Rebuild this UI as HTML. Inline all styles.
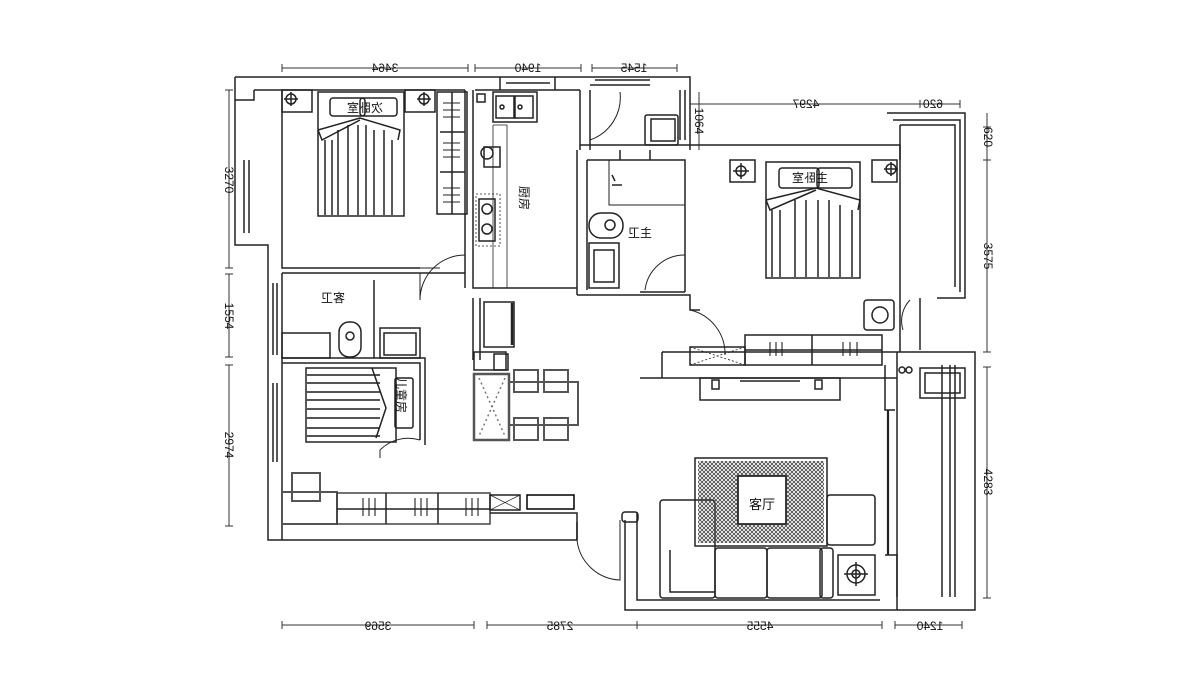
<!DOCTYPE html>
<html><head><meta charset="utf-8"><style>
html,body{margin:0;padding:0;background:#fff;}
svg{display:block;}
text{font-family:"Liberation Sans","Noto Sans CJK SC",sans-serif;fill:#111;}
</style></head><body>
<svg width="1187" height="694" viewBox="0 0 1187 694" xmlns="http://www.w3.org/2000/svg">
<g fill="none" stroke="#222" stroke-width="1.5">
<!-- ===== dimension lines ===== -->
<g stroke="#333" stroke-width="1">
<line x1="282" y1="68" x2="468" y2="68"/><line x1="282" y1="64" x2="282" y2="72"/><line x1="468" y1="64" x2="468" y2="72"/>
<line x1="475" y1="68" x2="581" y2="68"/><line x1="475" y1="64" x2="475" y2="72"/><line x1="581" y1="64" x2="581" y2="72"/>
<line x1="592" y1="68" x2="677" y2="68"/><line x1="592" y1="64" x2="592" y2="72"/><line x1="677" y1="64" x2="677" y2="72"/>
<line x1="690" y1="104" x2="960" y2="104"/><line x1="920" y1="100" x2="920" y2="108"/><line x1="960" y1="100" x2="960" y2="108"/>
<line x1="699" y1="92" x2="699" y2="150"/>
<line x1="229" y1="90" x2="229" y2="268"/><line x1="225" y1="90" x2="233" y2="90"/><line x1="225" y1="268" x2="233" y2="268"/>
<line x1="229" y1="274" x2="229" y2="357"/><line x1="225" y1="274" x2="233" y2="274"/><line x1="225" y1="357" x2="233" y2="357"/>
<line x1="229" y1="365" x2="229" y2="526"/><line x1="225" y1="365" x2="233" y2="365"/><line x1="225" y1="526" x2="233" y2="526"/>
<line x1="987" y1="113" x2="987" y2="352"/><line x1="983" y1="127" x2="991" y2="127"/><line x1="983" y1="160" x2="991" y2="160"/><line x1="983" y1="352" x2="991" y2="352"/>
<line x1="987" y1="367" x2="987" y2="598"/><line x1="983" y1="367" x2="991" y2="367"/><line x1="983" y1="598" x2="991" y2="598"/>
<line x1="282" y1="625" x2="474" y2="625"/><line x1="282" y1="621" x2="282" y2="629"/><line x1="474" y1="621" x2="474" y2="629"/>
<line x1="487" y1="625" x2="882" y2="625"/><line x1="487" y1="621" x2="487" y2="629"/><line x1="637" y1="621" x2="637" y2="629"/><line x1="882" y1="621" x2="882" y2="629"/>
<line x1="895" y1="625" x2="962" y2="625"/><line x1="895" y1="621" x2="895" y2="629"/><line x1="962" y1="621" x2="962" y2="629"/>
</g>
<!-- ===== walls ===== -->
<path d="M235 77 H690 V150"/>
<path d="M254 90 H282 M282 90 H465"/>
<path d="M235 77 V245 H268 V540 H577 V522"/>
<path d="M254 90 V100 H235"/>
<path d="M249 160 V233 M244 160 V233"/>
<path d="M282 90 V268 H420"/>
<path d="M282 273 H465"/>
<path d="M282 273 V540"/>
<path d="M273 283 V355 M277 283 V355 M273 383 V462 M277 383 V462"/>
<path d="M282 358 H425 V445"/>
<path d="M282 363 H420 V440"/>
<path d="M374 280 V358"/>
<path d="M465 90 V270 M473 90 V288 H577"/>
<path d="M465 270 V288 M473 298 V360 M480 298 V360"/>
<path d="M475 90 H580 M580 90 V150 M590 90 V150"/>
<path d="M500 90 V77 M555 90 V77 M506 83 H550"/>
<path d="M590 85 H650 M595 80 H650"/>
<path d="M580 145 H900 V352 M577 150 V295 M587 160 V290"/>
<path d="M587 160 H685 V292 M620 150 V160 M650 150 V160"/>
<path d="M685 292 H640 M577 295 H690 V310 H700"/>
<path d="M680 90 V140 M685 90 V140"/>
<path d="M887 113 H965 V298 H937 M893 120 H960 V292 M900 125 H955 V287 M900 125 V160"/>
<path d="M910 300 A30 30 0 0 0 903 330" stroke-width="1"/>
<path d="M920 298 V350"/>
<path d="M662 352 H975 V610 H625 V520"/>
<path d="M662 352 V378 H897 M662 378 H640"/>
<path d="M897 352 V610 M885 365 V410 H895"/>
<path d="M888 410 V555" stroke-width="2.2"/>
<path d="M885 555 H897 V597 M942 365 V597 M950 365 V597 M955 365 V597"/>
<path d="M637 512 V600 H880"/>
<path d="M420 268 H440 M420 273 V300 A 45 45 0 0 1 465 255" stroke-width="1"/>
<path d="M380 450 A40 40 0 0 1 420 440 M380 450 V458" stroke-width="1"/>
<path d="M620 92 A 45 45 0 0 1 590 140" stroke-width="1"/>
<path d="M645 290 A 40 40 0 0 1 685 255" stroke-width="1"/>
<path d="M690 310 A 45 45 0 0 1 725 355" stroke-width="1"/>
<path d="M577 540 A 45 45 0 0 0 620 580 V520" stroke-width="1"/>
<rect x="622" y="512" width="16" height="10" rx="3"/>
<!-- second bedroom furniture -->
<rect x="282" y="90" width="30" height="22"/><circle cx="291" cy="99" r="5"/><path d="M291 92 V106 M284 99 H298"/>
<rect x="405" y="90" width="30" height="22"/><circle cx="424" cy="99" r="5"/><path d="M424 92 V106 M417 99 H431"/>
<rect x="318" y="92" width="86" height="124"/>
<rect x="330" y="98" width="35" height="18" rx="3"/><rect x="360" y="98" width="37" height="18" rx="3"/>
<path d="M318 130 L360 118 L400 130 L398 140 M318 130 L322 140 L360 120" />
<path d="M325 140 V215 M332 140 V215 M338 130 V215 M348 125 V215 M358 125 V215 M366 125 V215 M374 130 V215 M384 130 V215 M392 140 V215"/>
<rect x="437" y="92" width="30" height="122"/>
<path d="M440 132 H465 M440 172 H465 M452 92 V214"/>
<g stroke-width="1"><path d="M443 103 H460 M443 110 H460 M443 117 H460 M443 143 H460 M443 150 H460 M443 157 H460 M443 188 H460 M443 195 H460 M443 202 H460"/></g>
<!-- kitchen -->
<rect x="493" y="92" width="44" height="30"/><rect x="496" y="96" width="18" height="22"/><rect x="515" y="96" width="18" height="22"/>
<circle cx="502" cy="107" r="2"/><circle cx="520" cy="107" r="2"/><rect x="477" y="94" width="8" height="8"/>
<path d="M493 125 V288 M493 125 H507 V288" stroke-width="0.8"/>
<rect x="484" y="147" width="16" height="20"/><circle cx="487" cy="153" r="6"/>
<rect x="476" y="194" width="24" height="52" stroke-dasharray="2 2" stroke-width="0.8"/>
<rect x="479" y="199" width="16" height="42"/><circle cx="487" cy="209" r="5"/><circle cx="487" cy="229" r="5"/>
<!-- master bath -->
<path d="M609 160 V205 H685" stroke-width="1"/>
<rect x="589" y="213" width="34" height="25" rx="12"/><circle cx="610" cy="225" r="5"/>
<rect x="589" y="243" width="30" height="45"/><rect x="594" y="250" width="20" height="32"/>
<path d="M612 175 l3 6 M612 185 h10"/>
<rect x="645" y="115" width="33" height="30" rx="2"/><rect x="651" y="119" width="24" height="22"/>
<!-- master bedroom -->
<rect x="730" y="160" width="25" height="22"/><circle cx="741" cy="171" r="5"/><path d="M741 163 V179 M733 171 H749"/>
<rect x="872" y="160" width="25" height="22"/><circle cx="891" cy="169" r="5"/><path d="M891 162 V176 M884 169 H898"/>
<rect x="766" y="162" width="94" height="116"/>
<rect x="779" y="168" width="40" height="20" rx="3"/><rect x="817" y="168" width="35" height="20" rx="3"/>
<path d="M766 200 L816 188 L860 200 L858 210 M766 200 L770 210 L816 190"/>
<path d="M772 210 V277 M780 210 V277 M795 200 V277 M806 200 V277 M818 200 V277 M829 200 V277 M840 205 V277 M852 210 V277"/>
<rect x="864" y="300" width="30" height="30" rx="3"/><circle cx="880" cy="315" r="8"/>
<rect x="745" y="335" width="137" height="30"/><path d="M812 335 V365 M745 350 H882"/>
<rect x="690" y="347" width="55" height="18"/><path d="M690 347 L745 365 M690 365 L745 347" stroke-dasharray="2 2" stroke-width="0.8"/>
<g stroke-width="1.1"><path d="M770 342 v14 M776 342 v14 M782 342 v14 M843 342 v14 M850 342 v14 M857 342 v14"/></g>
<rect x="700" y="378" width="140" height="22"/><rect x="712" y="380" width="7" height="9"/><rect x="815" y="380" width="7" height="9"/><path d="M740 381 H800"/>
<rect x="920" y="368" width="45" height="30"/><rect x="925" y="373" width="35" height="20"/>
<circle cx="902" cy="370" r="3"/><circle cx="909" cy="370" r="3"/>
<!-- living -->
<rect x="695" y="458" width="132" height="88"/>
<rect x="738" y="476" width="48" height="48" fill="#fff"/>
<rect x="660" y="500" width="55" height="98" rx="3"/><path d="M670 550 V592 H715"/>
<rect x="715" y="548" width="52" height="50" rx="3"/><rect x="767" y="548" width="55" height="50" rx="3"/><rect x="820" y="548" width="13" height="50" rx="3"/>
<rect x="827" y="495" width="48" height="50" rx="3"/>
<rect x="838" y="555" width="37" height="40"/><circle cx="856" cy="574" r="9"/><circle cx="856" cy="574" r="4"/><path d="M856 562 V586 M844 574 H868"/>
<!-- dining -->
<rect x="484" y="302" width="30" height="45"/><path d="M512 303 V345" stroke-width="2.5"/>
<rect x="474" y="352" width="32" height="18"/><rect x="494" y="354" width="14" height="16"/>
<rect x="474" y="374" width="35" height="66" stroke="#555" stroke-width="2.5"/>
<path d="M479 378 L505 436 M505 378 L479 436" stroke-dasharray="2 3" stroke="#777"/>
<rect x="509" y="382" width="69" height="43" stroke="#555" stroke-width="2"/>
<g stroke="#555" stroke-width="2"><rect x="514" y="370" width="24" height="22"/><rect x="544" y="370" width="24" height="22"/><rect x="514" y="418" width="24" height="22"/><rect x="544" y="418" width="24" height="22"/></g>
<!-- guest bath -->
<rect x="282" y="333" width="48" height="25"/><rect x="339" y="322" width="22" height="35" rx="10"/><circle cx="350" cy="336" r="4"/>
<rect x="380" y="328" width="40" height="30"/><rect x="384" y="333" width="32" height="22"/>
<!-- kids room -->
<rect x="306" y="368" width="90" height="74"/>
<g stroke="#555" stroke-width="2"><path d="M306 375 H380 M306 383 H380 M306 392 H380 M306 400 H380 M306 409 H380 M306 418 H380 M306 428 H380 M306 436 H380"/></g>
<path d="M372 368 L386 408 L376 438" /><rect x="395" y="378" width="18" height="50" rx="2"/>
<!-- bottom wardrobe -->
<rect x="282" y="492" width="55" height="32" stroke="#555" stroke-width="2"/>
<rect x="292" y="473" width="28" height="28" stroke="#555" stroke-width="2"/>
<rect x="337" y="493" width="153" height="31" stroke="#444" stroke-width="1.5"/>
<path d="M386 493 V524 M438 493 V524 M337 509 H490"/>
<g stroke-width="1.1"><path d="M363 498 v18 M369 498 v18 M375 498 v18 M415 498 v18 M421 498 v18 M427 498 v18 M466 498 v18 M472 498 v18 M478 498 v18"/></g>
<rect x="490" y="495" width="30" height="15"/><path d="M490 495 L520 510 M490 510 L520 495" stroke-width="0.7"/>
<rect x="527" y="495" width="47" height="14" stroke="#000" stroke-width="1.5"/>
<path d="M490 513 H577 V540"/>
</g>
<defs><pattern id="h" width="4" height="4" patternUnits="userSpaceOnUse"><path d="M0 4 L4 0 M0 0 L4 4" stroke="#444" stroke-width="0.8"/></pattern></defs>
<path d="M698 461 H824 V543 H698 Z M738 476 V524 H786 V476 Z" fill="url(#h)" fill-rule="evenodd"/>
<rect x="738" y="476" width="48" height="48" fill="none" stroke="#222" stroke-width="1.5"/>
<!-- text -->
<g font-size="12">
<text transform="translate(385 72) scale(-1 1)" text-anchor="middle">3464</text>
<text transform="translate(528 72) scale(-1 1)" text-anchor="middle">1940</text>
<text transform="translate(634 72) scale(-1 1)" text-anchor="middle">1545</text>
<text transform="translate(806 108) scale(-1 1)" text-anchor="middle">4297</text>
<text transform="translate(933 108) scale(-1 1)" text-anchor="middle">620</text>
<text transform="translate(378 630) scale(-1 1)" text-anchor="middle">3569</text>
<text transform="translate(560 630) scale(-1 1)" text-anchor="middle">2785</text>
<text transform="translate(760 630) scale(-1 1)" text-anchor="middle">4555</text>
<text transform="translate(930 630) scale(-1 1)" text-anchor="middle">1240</text>
<text transform="translate(225 180) rotate(90)" text-anchor="middle">3270</text>
<text transform="translate(225 316) rotate(90)" text-anchor="middle">1554</text>
<text transform="translate(225 445) rotate(90)" text-anchor="middle">2974</text>
<text transform="translate(695 121) rotate(90)" text-anchor="middle">1064</text>
<text transform="translate(984 137) rotate(90)" text-anchor="middle">620</text>
<text transform="translate(984 256) rotate(90)" text-anchor="middle">3575</text>
<text transform="translate(984 482) rotate(90)" text-anchor="middle">4283</text>
</g>
<g font-size="12">
<text transform="translate(365 112) scale(-1 1)" text-anchor="middle">次卧室</text>
<text transform="translate(810 182) scale(-1 1)" text-anchor="middle">主卧室</text>
<text transform="translate(520 198) rotate(90)" text-anchor="middle">厨房</text>
<text transform="translate(640 237) scale(-1 1)" text-anchor="middle">主卫</text>
<text transform="translate(333 302) scale(-1 1)" text-anchor="middle">客卫</text>
<text transform="translate(397 395) rotate(90)" text-anchor="middle">儿童房</text>
<text x="762" y="509" text-anchor="middle" font-size="13">客厅</text>
</g>
</svg>
</body></html>
